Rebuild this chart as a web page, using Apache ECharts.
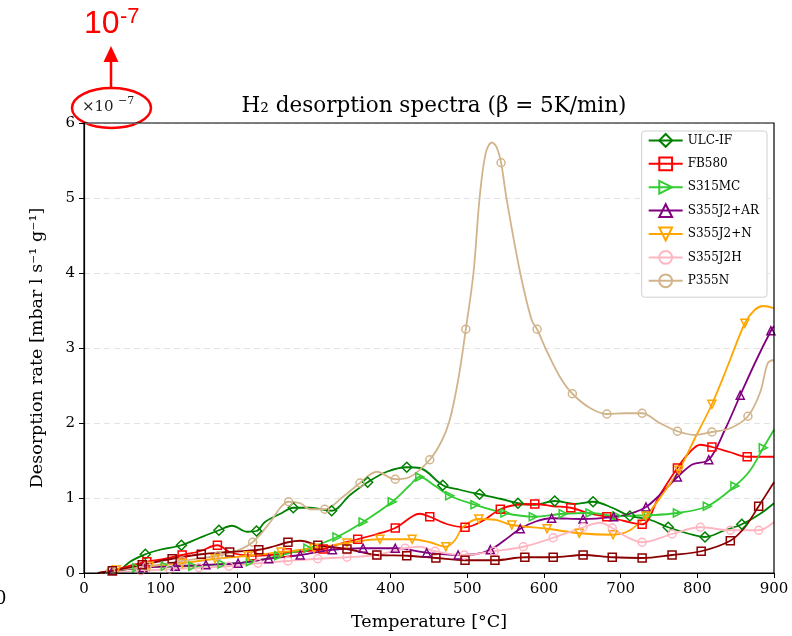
<!DOCTYPE html>
<html>
<head>
<meta charset="utf-8">
<script src="https://cdn.jsdelivr.net/npm/echarts@6/dist/echarts.min.js"></script>
<style>html,body{margin:0;padding:0;background:#fff;}#c{width:792px;height:636px;}</style>
</head>
<body>
<div id="c"></div>
<script>
// ---- data (temperature in °C, desorption rate in 1e-7 mbar l s^-1 g^-1) ----
const ulcT = [44,60,80,99,127,151,176,193,213,225,236,256,273,295,323,347,370,395,421,438,468,490,516,543,566,588,614,640,664,689,712,738,762,790,810,836,858,882,900];
const ulcV = [0,0.15,0.25,0.31,0.37,0.47,0.57,0.63,0.55,0.56,0.68,0.79,0.87,0.87,0.83,1.04,1.21,1.35,1.41,1.40,1.17,1.11,1.05,0.99,0.93,0.91,0.96,0.92,0.95,0.87,0.76,0.71,0.61,0.52,0.48,0.57,0.65,0.79,0.93];
const ulcM = [2,4,6,9,12,14,16,18,20,22,24,26,28,30,32,34,36];

const fbT = [27,54,82,106,128,151,174,192,219,243,265,288,312,334,357,382,406,429,438,451,474,497,519,543,565,588,612,635,660,682,706,728,751,774,790,804,819,843,865,882,900];
const fbV = [0,0.08,0.15,0.19,0.24,0.29,0.37,0.27,0.23,0.24,0.27,0.29,0.32,0.39,0.45,0.52,0.60,0.76,0.79,0.75,0.65,0.61,0.69,0.85,0.91,0.92,0.89,0.87,0.79,0.75,0.69,0.65,1.04,1.40,1.61,1.71,1.68,1.61,1.55,1.55,1.55];
const fbM = [2,4,6,8,10,12,14,16,19,21,23,25,27,29,31,33,36,38];

const smT = [27,69,106,142,180,217,254,292,330,364,402,425,438,458,477,510,549,586,625,660,695,736,774,813,849,869,886,900];
const smV = [0,0.07,0.09,0.09,0.12,0.15,0.23,0.33,0.48,0.68,0.95,1.17,1.28,1.16,1.03,0.91,0.80,0.75,0.79,0.80,0.76,0.77,0.80,0.89,1.16,1.37,1.67,1.91];
const smM = [1,2,3,4,5,6,7,8,9,10,12,14,15,16,17,18,19,20,21,22,23,24,26];

const arT = [21,37,77,119,159,201,241,282,324,364,406,447,488,510,530,549,569,590,610,651,691,712,733,754,774,794,815,836,856,877,896,900];
const arV = [0,0.03,0.07,0.09,0.11,0.13,0.19,0.24,0.31,0.33,0.33,0.27,0.24,0.25,0.31,0.44,0.59,0.69,0.73,0.72,0.75,0.79,0.88,1.07,1.28,1.45,1.51,1.91,2.37,2.84,3.23,3.29];
const arM = [1,2,3,4,5,6,7,8,9,10,11,12,14,16,18,19,20,22,24,26,28,30];

const nT = [21,42,85,128,171,214,257,300,343,386,428,451,472,484,494,515,536,558,604,646,690,712,733,754,776,797,819,840,862,875,886,900];
const nV = [0,0.04,0.09,0.13,0.19,0.23,0.28,0.33,0.40,0.45,0.45,0.41,0.35,0.44,0.61,0.72,0.71,0.64,0.59,0.53,0.51,0.57,0.76,1.04,1.37,1.80,2.25,2.77,3.33,3.51,3.56,3.53];
const nM = [1,2,3,4,5,6,7,8,9,10,12,15,17,18,19,20,22,24,26,28];

const hT = [27,74,112,150,189,227,266,305,343,381,419,438,458,496,535,573,612,651,673,689,708,728,767,804,843,880,900];
const hV = [0,0.03,0.05,0.07,0.09,0.13,0.16,0.19,0.21,0.24,0.33,0.35,0.29,0.24,0.29,0.35,0.47,0.61,0.67,0.60,0.48,0.41,0.52,0.61,0.57,0.57,0.68];
const hM = [1,2,3,4,5,6,7,8,9,10,12,13,14,15,16,17,19,21,22,23,24,25];

const pT = [21,35,82,128,175,198,220,243,256,267,282,295,314,337,360,382,406,425,451,467,477,488,498,508,516,524,532,538,544,551,569,584,591,604,621,637,660,682,706,728,751,774,797,819,843,866,882,892,900];
const pV = [0,0.03,0.09,0.16,0.23,0.29,0.41,0.68,0.87,0.95,0.93,0.85,0.85,1.01,1.20,1.35,1.25,1.28,1.51,1.77,2.04,2.57,3.25,4.0,5.0,5.6,5.74,5.68,5.47,5.0,4.0,3.37,3.25,2.95,2.61,2.39,2.20,2.12,2.13,2.13,2.00,1.89,1.84,1.88,1.93,2.09,2.41,2.80,2.84];
const pM = [1,2,3,4,6,9,12,14,16,18,22,28,32,35,37,39,41,43,45];

const mT = [18,37,76,115,153,190,228,249,266,282,305,343,382,421,459,497,536,575,612,651,689,728,767,805,843,862,880,900];
const mV = [0,0.03,0.11,0.19,0.25,0.28,0.31,0.36,0.41,0.43,0.37,0.32,0.24,0.23,0.20,0.17,0.17,0.21,0.21,0.24,0.21,0.20,0.24,0.29,0.43,0.61,0.89,1.21];
const mM = [1,2,3,4,5,6,8,10,11,12,13,14,15,16,17,18,19,20,21,22,23,24,26];

const xTicks = [0,100,200,300,400,500,600,700,800,900];
const yTicks = [0,1,2,3,4,5,6];

// ---- build ----
const SERIF = "'DejaVu Serif', 'Liberation Serif', serif";
const RTRI = 'path://M0,0 L10,5 L0,10 Z';
const DTRI = 'path://M0,0 L10,0 L5,10 Z';

const specs = [
  {name:'ULC-IF', T:ulcT, V:ulcV, M:ulcM, color:'#008000', symbol:'diamond', size:10},
  {name:'FB580', T:fbT, V:fbV, M:fbM, color:'#ff0000', symbol:'rect', size:8},
  {name:'S315MC', T:smT, V:smV, M:smM, color:'#32cd32', symbol:RTRI, size:8},
  {name:'S355J2+AR', T:arT, V:arV, M:arM, color:'#800080', symbol:'triangle', size:8},
  {name:'S355J2+N', T:nT, V:nV, M:nM, color:'#ffa500', symbol:DTRI, size:8},
  {name:'S355J2H', T:hT, V:hV, M:hM, color:'#ffb6c1', symbol:'circle', size:8},
  {name:'P355N', T:pT, V:pV, M:pM, color:'#d2b48c', symbol:'circle', size:8},
  {name:'_unlabeled', T:mT, V:mV, M:mM, color:'#8b0000', symbol:'rect', size:8}
];

const series = specs.map(s => ({
  name: s.name,
  type: 'line',
  smooth: 0.35,
  symbol: s.symbol,
  symbolSize: s.size,
  showSymbol: true,
  showAllSymbol: true,
  lineStyle: {color: s.color, width: 1.8},
  itemStyle: {color: 'rgba(255,255,255,0)', borderColor: s.color, borderWidth: 1.5},
  emphasis: {disabled: true},
  data: s.T.map((t, i) => s.M.indexOf(i) >= 0
      ? {value: [t, s.V[i]]}
      : {value: [t, s.V[i]], symbol: 'none'})
}));

const chart = echarts.init(document.getElementById('c'), null, {renderer: 'canvas'});
chart.setOption({
  animation: false,
  backgroundColor: '#fff',
  title: {
    text: 'H\u2082 desorption spectra (\u03b2 = 5K/min)',
    left: 429, top: 90, textAlign: 'center',
    textStyle: {fontFamily: SERIF, fontSize: 21.5, fontWeight: 'normal', color: '#000'}
  },
  grid: {left: 84, right: 18, top: 123, bottom: 63, show: false},
  legend: {
    data: specs.slice(0, 7).map(s => s.name),
    orient: 'vertical', right: 25, top: 131,
    itemWidth: 34, itemHeight: 16, itemGap: 8.6,
    padding: [2, 8, 9, 6],
    backgroundColor: '#fff', borderColor: '#d0d0d0', borderWidth: 1, borderRadius: 3,
    textStyle: {fontFamily: SERIF, fontSize: 12, color: '#000'},
    selectedMode: false
  },
  xAxis: {
    type: 'value', min: 0, max: 900, interval: 100,
    name: 'Temperature [\u00b0C]', nameLocation: 'middle', nameGap: 40,
    nameTextStyle: {fontFamily: SERIF, fontSize: 17.5, color: '#000'},
    axisLine: {show: true, lineStyle: {color: '#000', width: 1.2}},
    axisTick: {show: true, inside: false, length: 5, lineStyle: {color: '#000'}},
    axisLabel: {fontFamily: SERIF, fontSize: 15, color: '#000', margin: 9,
      formatter: v => xTicks.indexOf(v) >= 0 ? String(v) : ''},
    splitLine: {show: false}
  },
  yAxis: {
    type: 'value', min: 0, max: 6, interval: 1,
    name: 'Desorption rate [mbar l s\u207b\u00b9 g\u207b\u00b9]', nameLocation: 'middle', nameGap: 38,
    nameTextStyle: {fontFamily: SERIF, fontSize: 17.5, color: '#000'},
    axisLine: {show: true, lineStyle: {color: '#000', width: 1.2}},
    axisTick: {show: true, inside: false, length: 5, lineStyle: {color: '#000'}},
    axisLabel: {fontFamily: SERIF, fontSize: 15, color: '#000', margin: 9,
      formatter: v => yTicks.indexOf(v) >= 0 ? String(v) : ''},
    splitLine: {show: true, lineStyle: {color: '#e4e4e4', type: [6, 4], width: 1}}
  },
  graphic: [
    {type: 'rect', z: 50, silent: true, shape: {x: 84, y: 123, width: 690, height: 450}, style: {fill: 'none', stroke: '#000', lineWidth: 1.2}},
    {type: 'text', left: 82, top: 100, style: {text: '\u00d710', font: "15px 'DejaVu Serif', serif", fill: '#222'}},
    {type: 'text', left: 118, top: 96, style: {text: '\u22127', font: "11px 'DejaVu Serif', serif", fill: '#222'}},
    {type: 'ellipse', shape: {cx: 111.5, cy: 108, rx: 39.5, ry: 20}, style: {fill: 'none', stroke: '#ff0000', lineWidth: 2.5}},
    {type: 'line', shape: {x1: 111, y1: 88, x2: 111, y2: 58}, style: {stroke: '#ff0000', lineWidth: 2.5}},
    {type: 'polygon', shape: {points: [[111, 46], [103.5, 62], [118.5, 62]]}, style: {fill: '#ff0000'}},
    {type: 'text', left: 84, top: 8, style: {text: '10', font: "32px 'Liberation Sans', sans-serif", fill: '#ff0000'}},
    {type: 'text', left: 120, top: 6, style: {text: '-7', font: "22px 'Liberation Sans', sans-serif", fill: '#ff0000'}},
    {type: 'text', left: -5, top: 590, style: {text: '0', font: "18px 'DejaVu Serif', serif", fill: '#000'}}
  ],
  series: series
});
</script>
</body>
</html>
